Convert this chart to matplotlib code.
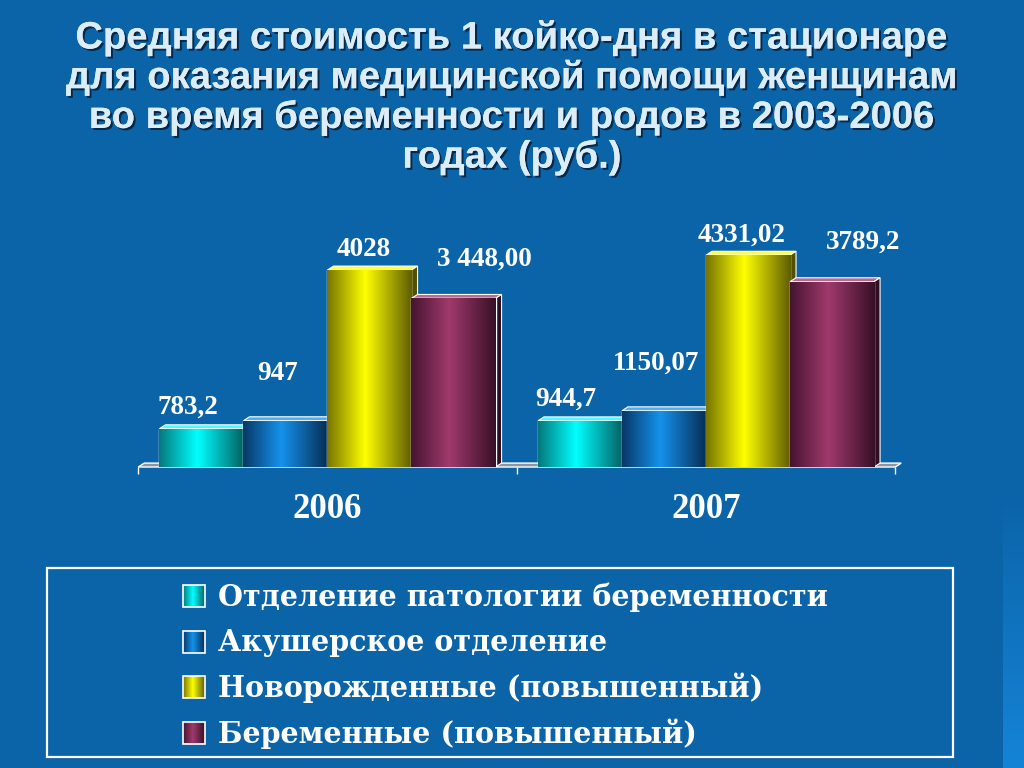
import matplotlib
matplotlib.use('Agg')
import matplotlib.pyplot as plt
import matplotlib.patheffects as pe
from matplotlib.colors import LinearSegmentedColormap, to_rgb
from matplotlib.patches import Rectangle
import numpy as np

years = ['2006', '2007']
series_names = ['Отделение патологии беременности',
                'Акушерское отделение',
                'Новорожденные (повышенный)',
                'Беременные (повышенный)']
patologia = [783.2, 944.7]
akusher = [947, 1150.07]
novorozh = [4028, 4331.02]
beremen = [3448.00, 3789.2]
value_labels = [['783,2', '944,7'],
                ['947', '1150,07'],
                ['4028', '4331,02'],
                ['3 448,00', '3789,2']]
title_lines = ['Средняя стоимость 1 койко-дня в стационаре',
               'для оказания медицинской помощи женщинам',
               'во время беременности и родов в 2003-2006',
               'годах (руб.)']

BG = '#0b63a8'
# edge / centre colours of the bar gradients
grad_colors = [('#05787c', '#00ffff'),
               ('#073866', '#1592ec'),
               ('#767400', '#ffff00'),
               ('#451430', '#a03a6c')]
label_offsets = [(-14, 15), (-8, 41), (-6, 14), (31, 33)]


def shade(c, k):
    r, g, b = to_rgb(c)
    if k < 1:
        return (r * k, g * k, b * k)
    return (r + (1 - r) * (k - 1), g + (1 - g) * (k - 1), b + (1 - b) * (k - 1))


def grad_cmap(edge, centre):
    return LinearSegmentedColormap.from_list(
        'g', [(0, edge), (0.45, centre), (1, shade(edge, 0.8))])


grad = np.linspace(0, 1, 256).reshape(1, -1)

fig = plt.figure(figsize=(10.24, 7.68), dpi=100, facecolor=BG)

# overlay in pixel coordinates for title, legend and background details
bg = fig.add_axes([0, 0, 1, 1], zorder=0)
bg.axis('off')
bg.set_facecolor(BG)
vgrad = np.linspace(0, 1, 256).reshape(-1, 1)
stripe = LinearSegmentedColormap.from_list('s', [BG, '#1584d6'])
bg.imshow(vgrad, extent=[1003, 1024, 768, 490], cmap=stripe, aspect='auto', zorder=1)

shadow = [pe.withSimplePatchShadow(offset=(1.5, -1.5), shadow_rgbFace='#06223f', alpha=0.9),
          pe.Normal()]
for i, line in enumerate(title_lines):
    bg.text(512, 38 + 39.7 * i, line, ha='center', va='center', fontsize=27.5,
            fontweight='bold', family='Liberation Sans', color='#dcecf8',
            path_effects=shadow)

# legend
bg.add_patch(Rectangle((47, 568), 906, 189, fill=False, edgecolor='white', lw=1.6, zorder=2))
for i, name in enumerate(series_names):
    yc = 596 + 45.5 * i
    sq = Rectangle((183, yc - 11), 22, 22, facecolor='none', edgecolor='white', lw=1.2, zorder=4)
    bg.add_patch(sq)
    im = bg.imshow(grad, extent=[183, 205, yc + 11, yc - 11], cmap=grad_cmap(*grad_colors[i]),
                   aspect='auto', zorder=3)
    im.set_clip_path(sq)
    bg.text(218, yc + 1, name, ha='left', va='center', fontsize=20.6, fontweight='bold',
            family='DejaVu Serif', color='white', zorder=4)
bg.set_xlim(0, 1024)
bg.set_ylim(768, 0)

# bar chart
ax = fig.add_axes([0.1239, 0.3919, 0.7614, 0.3248], zorder=1)
ax.patch.set_alpha(0)
for s in ax.spines.values():
    s.set_visible(False)

x = np.arange(len(years))
w = 0.222
DX, DY = 0.016, 80
series = [patologia, akusher, novorozh, beremen]

# floor
ax.fill([-0.5, -0.5 + DX, 1.5 + DX, 1.5], [0, DY, DY, 0], facecolor='#8c95a0',
        edgecolor='white', lw=1.0, clip_on=False, zorder=1)

for i, vals in enumerate(series):
    edge, centre = grad_colors[i]
    cmap = grad_cmap(edge, centre)
    pos = x + (i - 1.5) * w
    bars = ax.bar(pos, vals, width=w, color=centre, edgecolor='white', lw=1.0,
                  zorder=3 + i * 2)
    for b, lab in zip(bars, value_labels[i]):
        x0, x1 = b.get_x(), b.get_x() + b.get_width()
        h = b.get_height()
        # top and side faces
        ax.fill([x0, x0 + DX, x1 + DX, x1], [h, h + DY, h + DY, h],
                facecolor=shade(centre, 1.25), edgecolor='white', lw=0.8, zorder=2 + i * 2)
        ax.fill([x1, x1 + DX, x1 + DX, x1], [0, DY, h + DY, h],
                facecolor=shade(edge, 0.7), edgecolor='white', lw=0.8, zorder=2 + i * 2)
        im = ax.imshow(grad, extent=[x0, x1, 0, h], cmap=cmap, aspect='auto',
                       zorder=3 + i * 2)
        im.set_clip_path(b)
        b.set_facecolor('none')
        dx, dy = label_offsets[i]
        ax.annotate(lab, (b.get_x() + b.get_width() / 2, h), xytext=(dx, dy),
                    textcoords='offset pixels', ha='center', va='baseline',
                    fontsize=19.5, fontweight='bold', family='Liberation Serif',
                    color='white', zorder=20)

ax.set_xlim(-0.53, 1.53)
ax.set_ylim(0, 5100)
ax.set_yticks([])
ax.set_xticks(x)
ax.set_xticklabels(years, fontsize=25, fontweight='bold', family='Liberation Serif',
                   color='white')
ax.tick_params(axis='x', length=0, pad=19)
ax.set_xticks([-0.5, 0.5, 1.5], minor=True)
ax.tick_params(axis='x', which='minor', length=5, color='white', width=1)

fig.savefig('out.png', dpi=100, facecolor=BG)
